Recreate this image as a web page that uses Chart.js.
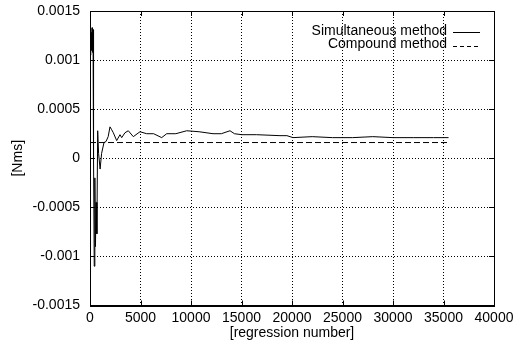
<!DOCTYPE html>
<html>
<head>
<meta charset="utf-8">
<script src="https://cdn.jsdelivr.net/npm/chart.js@4/dist/chart.umd.min.js"></script>
<style>
  html, body { margin: 0; padding: 0; background: #fff; }
  #wrap { width: 524px; height: 344px; }
</style>
</head>
<body>
<div id="wrap"><canvas id="chart"></canvas></div>
<script>
// regression number vs. value for the two methods
const simX = [0, 60, 100, 150, 200, 250, 300, 350, 420, 480, 540, 600, 680, 760, 850, 1000,
    1150, 1386, 1584, 1800, 1980, 2150, 2307, 2643, 2970, 3138, 3465, 3792, 4287, 4950,
    5613, 6300, 7098, 7593, 8500, 9573, 10800, 12177, 13000, 13860, 14300, 15018, 16500,
    18810, 19500, 20100, 22000, 24000, 26000, 28000, 30000, 32000, 34000, 35500];
const simY = [0.0012, 0.00105, 0.00128, 0.0011, 0.00133, 0.00108, 0.00131, 0.0, -0.0011, -0.0002,
    -0.0009, -0.00045, -0.00077, 0.00028, 0.00005, -0.00011, 0.00005, 0.00016, 0.00017, 0.00022,
    0.00032, 0.00029, 0.00026, 0.00018, 0.00024, 0.00021, 0.00026, 0.00028, 0.00022, 0.00027,
    0.00025, 0.00025, 0.00021, 0.00025, 0.00025, 0.00028, 0.00027, 0.00025, 0.00025, 0.00028,
    0.00025, 0.00024, 0.00024, 0.00023, 0.00023, 0.00021, 0.00022, 0.00021, 0.00021, 0.00022,
    0.00021, 0.00021, 0.00021, 0.00021];
const compX = [0, 35500];
const compY = [0.00016, 0.00016];

const seriesLabels = ['Simultaneous method', 'Compound method'];
const yTickLabels = ['-0.0015', '-0.001', '-0.0005', '0', '0.0005', '0.001', '0.0015'];
const xTitle = '[regression number]';
const yTitle = '[Nms]';

const FONT = "'Liberation Sans', Arial, Helvetica, sans-serif";

function toPoints(xs, ys) {
    return xs.map((x, i) => ({ x: x, y: ys[i] }));
}

// gnuplot-style inward tick marks on all four sides
const innerTicks = {
    id: 'innerTicks',
    afterDatasetsDraw(chart) {
        const { ctx, chartArea: a, scales } = chart;
        ctx.save();
        ctx.strokeStyle = '#000';
        ctx.lineWidth = 1;
        ctx.beginPath();
        scales.x.ticks.forEach(t => {
            const px = Math.round(scales.x.getPixelForValue(t.value)) + 0.5;
            ctx.moveTo(px, a.bottom); ctx.lineTo(px, a.bottom - 5);
            ctx.moveTo(px, a.top); ctx.lineTo(px, a.top + 5);
        });
        scales.y.ticks.forEach(t => {
            const py = Math.round(scales.y.getPixelForValue(t.value)) + 0.5;
            ctx.moveTo(a.left, py); ctx.lineTo(a.left + 5, py);
            ctx.moveTo(a.right, py); ctx.lineTo(a.right - 5, py);
        });
        ctx.stroke();
        ctx.restore();
    }
};

// legend inside the plot, top right, text right-aligned with sample on the right
const insideLegend = {
    id: 'insideLegend',
    afterDraw(chart) {
        const { ctx, chartArea: a } = chart;
        ctx.save();
        ctx.font = '14px ' + FONT;
        ctx.fillStyle = '#000';
        ctx.textAlign = 'right';
        ctx.textBaseline = 'middle';
        chart.data.datasets.forEach((ds, i) => {
            const y = a.top + 20 + i * 13.5;
            ctx.fillText(ds.label, a.right - 47, y);
            ctx.beginPath();
            ctx.strokeStyle = '#000';
            ctx.lineWidth = 1;
            ctx.setLineDash(i === 0 ? [] : [4, 3]);
            const ly = Math.round(y + 1) + 0.5;
            ctx.moveTo(a.right - 41, ly);
            ctx.lineTo(a.right - 14, ly);
            ctx.stroke();
        });
        ctx.restore();
    }
};

const ctx = document.getElementById('chart');
new Chart(ctx.getContext('2d'), {
    type: 'line',
    data: {
        datasets: [{
            label: seriesLabels[0],
            data: toPoints(simX, simY),
            borderColor: '#000',
            borderWidth: 1,
            pointRadius: 0,
            tension: 0
        }, {
            label: seriesLabels[1],
            data: toPoints(compX, compY),
            borderColor: '#000',
            borderWidth: 1,
            borderDash: [6, 3],
            pointRadius: 0
        }]
    },
    options: {
        responsive: true,
        maintainAspectRatio: false,
        animation: false,
        layout: { padding: { left: 0, right: 30, top: 11, bottom: 0 } },
        plugins: {
            legend: { display: false },
            tooltip: { enabled: false }
        },
        scales: {
            x: {
                type: 'linear',
                min: 0,
                max: 40000,
                ticks: {
                    stepSize: 5000,
                    color: '#000',
                    font: { family: FONT, size: 14 },
                    padding: 4,
                    maxRotation: 0,
                    callback: v => String(v)
                },
                grid: {
                    color: '#000',
                    lineWidth: 1,
                    drawTicks: false
                },
                border: { color: '#000', width: 1, dash: [1, 2] },
                title: {
                    display: true,
                    text: xTitle,
                    color: '#000',
                    font: { family: FONT, size: 14 },
                    padding: { top: 0, bottom: 2 }
                },
                afterFit: s => {
                    s.height = 38.5;
                    s.paddingLeft = 0;
                    s.paddingRight = 0;
                }
            },
            y: {
                type: 'linear',
                min: -0.0015,
                max: 0.0015,
                ticks: {
                    stepSize: 0.0005,
                    color: '#000',
                    font: { family: FONT, size: 14 },
                    padding: 10,
                    callback: (v, i) => yTickLabels[i]
                },
                grid: {
                    color: '#000',
                    lineWidth: 1,
                    drawTicks: false
                },
                border: { color: '#000', width: 1, dash: [1, 2] },
                title: {
                    display: true,
                    text: yTitle,
                    color: '#000',
                    font: { family: FONT, size: 14 },
                    padding: { top: 10, bottom: 0 }
                },
                afterFit: s => {
                    s.width = 90;
                    s.paddingTop = 0;
                    s.paddingBottom = 0;
                }
            }
        }
    },
    plugins: [innerTicks, insideLegend, {
        id: 'frame',
        afterDatasetsDraw(chart) {
            const { ctx, chartArea: a } = chart;
            ctx.save();
            ctx.strokeStyle = '#000';
            ctx.lineWidth = 1;
            ctx.strokeRect(Math.round(a.left) + 0.5, Math.round(a.top) + 0.5,
                Math.round(a.right - a.left), Math.round(a.bottom - a.top));
            ctx.restore();
        }
    }]
});
</script>
</body>
</html>
